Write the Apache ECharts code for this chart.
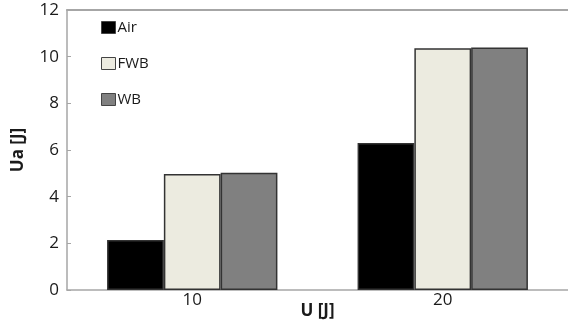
<!DOCTYPE html>
<html>
<head>
<meta charset="utf-8">
<script src="https://cdn.jsdelivr.net/npm/echarts@6/dist/echarts.min.js"></script>
<style>
  html, body { margin: 0; padding: 0; background: #fff; }
  #chart { width: 568px; height: 324px; }
</style>
</head>
<body>
<div id="chart"></div>
<script>
// Impact energy categories and absorbed energy per medium
const categories = ['10', '20'];
const airValues = [2.14, 6.3];
const fwbValues = [4.97, 10.36];
const wbValues = [5.03, 10.39];
const yTicks = [0, 2, 4, 6, 8, 10, 12];

const font = '"Open Sans", "Liberation Sans", sans-serif';
const axisGrey = '#a6a6a6';
const barBorder = '#333333';
const textColor = '#1a1a1a';

const chart = echarts.init(document.getElementById('chart'), null, { renderer: 'canvas' });

function barSeries(name, data, color) {
  return {
    name: name,
    type: 'bar',
    data: data,
    barGap: '0%',
    barCategoryGap: '32%',
    itemStyle: { color: color, borderColor: barBorder, borderWidth: 1.5 }
  };
}

chart.setOption({
  animation: false,
  backgroundColor: '#ffffff',
  textStyle: { fontFamily: font },
  grid: { left: 67, right: 0, top: 10, bottom: 34, containLabel: false, outerBoundsMode: 'none' },
  legend: {
    orient: 'vertical',
    left: 101,
    top: 20,
    padding: 0,
    itemWidth: 14,
    itemHeight: 12,
    itemGap: 21,
    icon: 'rect',
    textStyle: { fontFamily: font, fontSize: 15, color: textColor, padding: [0, 0, 0, -3] },
    itemStyle: { borderColor: '#444', borderWidth: 1 },
    data: ['Air', 'FWB', 'WB']
  },
  xAxis: [
    {
      type: 'category',
      data: categories,
      name: 'U [J]',
      nameLocation: 'middle',
      nameGap: 13,
      nameMoveOverlap: false,
      nameTextStyle: { fontFamily: font, fontSize: 17, fontWeight: 'bold', color: textColor },
      axisLine: { lineStyle: { color: axisGrey, width: 1.5 } },
      axisTick: { inside: true, length: 6, lineStyle: { color: axisGrey } },
      axisLabel: { fontFamily: font, fontSize: 17, color: textColor, margin: 2 }
    },
    {
      type: 'category',
      data: categories,
      position: 'top',
      axisLine: { lineStyle: { color: axisGrey, width: 2 } },
      axisTick: { show: false },
      axisLabel: { show: false }
    }
  ],
  yAxis: {
    type: 'value',
    min: yTicks[0],
    max: yTicks[yTicks.length - 1],
    interval: 2,
    name: 'Ua [J]',
    nameLocation: 'middle',
    nameGap: 40,
    nameMoveOverlap: false,
    nameTextStyle: { fontFamily: font, fontSize: 17, fontWeight: 'bold', color: textColor },
    axisLine: { show: true, lineStyle: { color: axisGrey, width: 1.5 } },
    axisTick: { show: true, inside: true, length: 4, lineStyle: { color: axisGrey } },
    axisLabel: { fontFamily: font, fontSize: 17, color: textColor, margin: 8 },
    splitLine: { show: false }
  },
  series: [
    barSeries('Air', airValues, '#000000'),
    barSeries('FWB', fwbValues, '#ECEBE0'),
    barSeries('WB', wbValues, '#808080')
  ]
});
</script>
</body>
</html>
